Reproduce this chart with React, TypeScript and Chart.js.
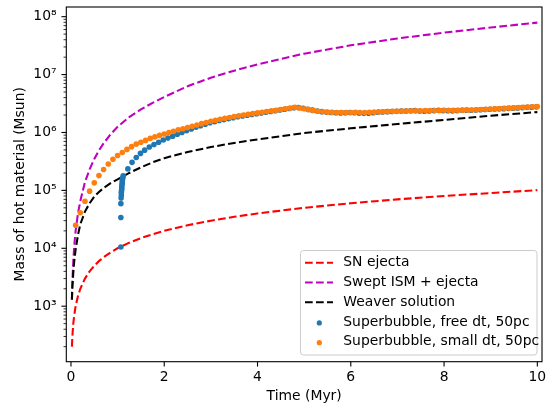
import React, { useEffect, useRef } from "react";
import { Chart, registerables } from "chart.js";

Chart.register(...registerables);

// ---- Data ----
const lineTimes = [0.02, 0.03, 0.05, 0.07, 0.1, 0.15, 0.2, 0.3, 0.4, 0.5, 0.6, 0.7, 0.85, 1, 1.25, 1.5, 1.75, 2, 2.5, 3, 3.5, 4, 5, 6, 7, 8, 9, 10];
const snEjecta = [200, 300, 500, 700, 1000, 1500, 2000, 3000, 4000, 5000, 6000, 7000, 8500, 10000, 12500, 15000, 17500, 20000, 25000, 30000, 35000, 40000, 50000, 60000, 70000, 80000, 90000, 101000];
const sweptIsm = [1300, 2600, 6000, 11000, 20000, 40000, 65000, 140000, 230000, 350000, 490000, 650000, 930000, 1250000, 1850000, 2500000, 3250000, 4100000, 6300000, 8800000, 11700000, 15000000, 23000000, 32000000, 42000000, 53000000, 65000000, 79000000];
const weaver = [1300, 2100, 3800, 6000, 9500, 17000, 26000, 43000, 60000, 78000, 94000, 110000, 133000, 155000, 200000, 250000, 305000, 360000, 460000, 560000, 660000, 760000, 980000, 1180000, 1400000, 1650000, 1950000, 2250000];

const blueTimes = [
  1.07, 1.07, 1.07, 1.075, 1.08, 1.08, 1.085, 1.09, 1.09, 1.095, 1.1, 1.1, 1.105, 1.11, 1.12,
  1.22, 1.31, 1.4, 1.49, 1.58, 1.68, 1.78, 1.88, 1.98, 2.08, 2.18, 2.28, 2.38, 2.48,
  2.58, 2.68, 2.78, 2.88, 2.98, 3.08, 3.18, 3.28, 3.38, 3.48,
  3.58, 3.68, 3.78, 3.88, 3.98, 4.08, 4.18, 4.28, 4.38, 4.48,
  4.58, 4.68, 4.78, 4.88, 4.98, 5.08, 5.18, 5.28, 5.38, 5.48,
  5.58, 5.68, 5.78, 5.88, 5.98, 6.08, 6.18, 6.28, 6.38, 6.48,
  6.58, 6.68, 6.78, 6.88, 6.98, 7.08, 7.18, 7.28, 7.38, 7.48,
  7.58, 7.68, 7.78, 7.88, 7.98, 8.08, 8.18, 8.28, 8.38, 8.48,
  8.58, 8.68, 8.78, 8.88, 8.98, 9.08, 9.18, 9.28, 9.38, 9.48,
  9.58, 9.68, 9.78, 9.88, 9.98,
];
const blueMass = [
  10500, 34000, 59000, 74000, 83000, 92000, 100000, 108000, 117000, 126000, 135000, 145000, 155000, 165000, 178000,
  235000, 305000, 370000, 435000, 495000, 560000, 620000, 680000, 740000, 800000, 860000, 930000, 1000000, 1070000,
  1150000, 1230000, 1310000, 1390000, 1470000, 1540000, 1610000, 1670000, 1730000, 1800000,
  1870000, 1930000, 1990000, 2050000, 2110000, 2170000, 2230000, 2300000, 2370000, 2440000,
  2520000, 2600000, 2680000, 2700000, 2620000, 2520000, 2430000, 2350000, 2290000, 2240000,
  2210000, 2190000, 2180000, 2190000, 2210000, 2190000, 2160000, 2140000, 2150000, 2190000,
  2230000, 2260000, 2290000, 2310000, 2320000, 2340000, 2350000, 2370000, 2390000, 2350000,
  2330000, 2350000, 2390000, 2410000, 2390000, 2370000, 2360000, 2390000, 2410000, 2430000,
  2420000, 2440000, 2470000, 2490000, 2520000, 2540000, 2560000, 2580000, 2610000, 2630000,
  2660000, 2690000, 2720000, 2740000, 2770000,
];

const orangeTimes = [
  0.1, 0.2, 0.3, 0.4, 0.5, 0.6, 0.7, 0.8, 0.9, 1.0,
  1.1, 1.2, 1.3, 1.4, 1.5, 1.6, 1.7, 1.8, 1.9, 2.0,
  2.1, 2.2, 2.3, 2.4, 2.5, 2.6, 2.7, 2.8, 2.9, 3.0,
  3.1, 3.2, 3.3, 3.4, 3.5, 3.6, 3.7, 3.8, 3.9, 4.0,
  4.1, 4.2, 4.3, 4.4, 4.5, 4.6, 4.7, 4.8, 4.9, 5.0,
  5.1, 5.2, 5.3, 5.4, 5.5, 5.6, 5.7, 5.8, 5.9, 6.0,
  6.1, 6.2, 6.3, 6.4, 6.5, 6.6, 6.7, 6.8, 6.9, 7.0,
  7.1, 7.2, 7.3, 7.4, 7.5, 7.6, 7.7, 7.8, 7.9, 8.0,
  8.1, 8.2, 8.3, 8.4, 8.5, 8.6, 8.7, 8.8, 8.9, 9.0,
  9.1, 9.2, 9.3, 9.4, 9.5, 9.6, 9.7, 9.8, 9.9, 10.0,
];
const orangeMass = [
  25000, 41000, 65000, 97000, 135000, 180000, 230000, 285000, 345000, 400000,
  450000, 510000, 570000, 630000, 680000, 730000, 790000, 840000, 890000, 940000,
  1000000, 1050000, 1110000, 1160000, 1220000, 1280000, 1350000, 1420000, 1490000, 1560000,
  1630000, 1690000, 1750000, 1810000, 1880000, 1940000, 2000000, 2060000, 2120000, 2180000,
  2240000, 2300000, 2360000, 2420000, 2500000, 2570000, 2640000, 2720000, 2660000, 2570000,
  2480000, 2400000, 2330000, 2280000, 2250000, 2230000, 2220000, 2220000, 2220000, 2220000,
  2230000, 2220000, 2220000, 2230000, 2250000, 2270000, 2280000, 2300000, 2320000, 2330000,
  2340000, 2350000, 2360000, 2370000, 2380000, 2390000, 2400000, 2400000, 2400000, 2410000,
  2420000, 2420000, 2420000, 2430000, 2440000, 2450000, 2470000, 2500000, 2520000, 2550000,
  2570000, 2590000, 2610000, 2640000, 2660000, 2690000, 2720000, 2750000, 2780000, 2810000,
];

const xTickValues = [0, 2, 4, 6, 8, 10];
const yTickValues = [1e3, 1e4, 1e5, 1e6, 1e7, 1e8];
const yTickLabels = ["10\u00b3", "10\u2074", "10\u2075", "10\u2076", "10\u2077", "10\u2078"];
const legendLabels = [
  "SN ejecta",
  "Swept ISM + ejecta",
  "Weaver solution",
  "Superbubble, free dt, 50pc",
  "Superbubble, small dt, 50pc",
];

const FONT = "'DejaVu Sans', sans-serif";
const FS = 13.9;
const C_RED = "#ff0000";
const C_MAG = "#bf00bf";
const C_BLK = "#000000";
const C_BLUE = "#1f77b4";
const C_ORANGE = "#ff7f0e";
const DASH = [7.7, 3.3];

const pairs = (xs: number[], ys: number[]) => xs.map((x, i) => ({ x, y: ys[i] }));

const decorPlugin = {
  id: "decor",
  afterDraw(chart: any) {
    const { ctx, chartArea: a, scales } = chart;
    const xs = scales.x;
    const ys = scales.y;
    const line = (x1: number, y1: number, x2: number, y2: number) => {
      ctx.beginPath();
      ctx.moveTo(x1, y1);
      ctx.lineTo(x2, y2);
      ctx.stroke();
    };
    ctx.save();
    ctx.strokeStyle = "#000";
    ctx.lineWidth = 1.1;
    ctx.strokeRect(a.left, a.top, a.right - a.left, a.bottom - a.top);
    for (const v of xTickValues) {
      const px = xs.getPixelForValue(v);
      line(px, a.bottom, px, a.bottom + 4.86);
    }
    for (const v of yTickValues) {
      const py = ys.getPixelForValue(v);
      line(a.left - 4.86, py, a.left, py);
    }
    ctx.lineWidth = 0.8;
    for (let d = 2; d <= 8; d++) {
      for (let k = 2; k <= 9; k++) {
        const v = k * Math.pow(10, d);
        if (v < ys.min || v > ys.max) continue;
        const py = ys.getPixelForValue(v);
        line(a.left - 2.78, py, a.left, py);
      }
    }

    // legend
    const bx = 300.5, by = 250.5, bw = 236.5, bh = 104.5, r = 3;
    ctx.beginPath();
    ctx.moveTo(bx + r, by);
    ctx.lineTo(bx + bw - r, by);
    ctx.arcTo(bx + bw, by, bx + bw, by + r, r);
    ctx.lineTo(bx + bw, by + bh - r);
    ctx.arcTo(bx + bw, by + bh, bx + bw - r, by + bh, r);
    ctx.lineTo(bx + r, by + bh);
    ctx.arcTo(bx, by + bh, bx, by + bh - r, r);
    ctx.lineTo(bx, by + r);
    ctx.arcTo(bx, by, bx + r, by, r);
    ctx.closePath();
    ctx.fillStyle = "rgba(255,255,255,0.8)";
    ctx.fill();
    ctx.strokeStyle = "#cccccc";
    ctx.lineWidth = 1;
    ctx.stroke();

    const rowY = [262.7, 282.5, 302.2, 321.9, 341.7];
    const lineColors = [C_RED, C_MAG, C_BLK];
    ctx.font = `${FS}px ${FONT}`;
    ctx.textBaseline = "middle";
    ctx.textAlign = "left";
    for (let i = 0; i < legendLabels.length; i++) {
      const y = rowY[i];
      if (i < 3) {
        ctx.strokeStyle = lineColors[i];
        ctx.lineWidth = 2.08;
        ctx.setLineDash(DASH);
        line(305, y, 333, y);
        ctx.setLineDash([]);
      } else {
        ctx.fillStyle = i === 3 ? C_BLUE : C_ORANGE;
        ctx.beginPath();
        ctx.arc(319.3, y + 1, 2.6, 0, Math.PI * 2);
        ctx.fill();
      }
      ctx.fillStyle = "#000";
      ctx.fillText(legendLabels[i], 343.3, y);
    }
    ctx.restore();
  },
};

export default function App() {
  const ref = useRef<HTMLCanvasElement>(null);
  useEffect(() => {
    document.body.style.margin = "0";
    const canvas = ref.current!;
    Chart.defaults.font.family = FONT;
    Chart.defaults.color = "#000";
    const chart = new Chart(canvas, {
      type: "scatter",
      data: {
        datasets: [
          {
            label: legendLabels[4],
            data: pairs(orangeTimes, orangeMass),
            backgroundColor: C_ORANGE,
            pointRadius: 2.8,
            pointBorderWidth: 0,
            order: 0,
          },
          {
            label: legendLabels[3],
            data: pairs(blueTimes, blueMass),
            backgroundColor: C_BLUE,
            pointRadius: 2.8,
            pointBorderWidth: 0,
            order: 1,
          },
          {
            label: legendLabels[2],
            data: pairs(lineTimes, weaver),
            showLine: true,
            borderColor: C_BLK,
            borderWidth: 2.08,
            borderDash: DASH,
            pointRadius: 0,
            order: 2,
          },
          {
            label: legendLabels[1],
            data: pairs(lineTimes, sweptIsm),
            showLine: true,
            borderColor: C_MAG,
            borderWidth: 2.08,
            borderDash: DASH,
            pointRadius: 0,
            order: 3,
          },
          {
            label: legendLabels[0],
            data: pairs(lineTimes, snEjecta),
            showLine: true,
            borderColor: C_RED,
            borderWidth: 2.08,
            borderDash: DASH,
            pointRadius: 0,
            order: 4,
          },
        ] as any,
      },
      options: {
        responsive: false,
        animation: false,
        devicePixelRatio: 1,
        layout: { padding: { top: 7, right: 2.7, left: 0, bottom: 0 } },
        plugins: { legend: { display: false }, tooltip: { enabled: false } },
        scales: {
          x: {
            type: "linear",
            min: -0.1,
            max: 10.1,
            grid: { display: false, drawTicks: false },
            border: { display: false },
            ticks: {
              padding: 7,
              font: { size: FS },
              color: "#000",
              maxRotation: 0,
              autoSkip: false,
              callback: (v: any) => String(v),
            },
            afterBuildTicks: (s: any) => {
              s.ticks = xTickValues.map((v) => ({ value: v }));
            },
            afterFit: (s: any) => {
              s.height = 45.3;
              s.paddingLeft = 0;
              s.paddingRight = 0;
            },
            title: {
              display: true,
              text: "Time (Myr)",
              font: { size: FS },
              color: "#000",
              padding: { top: 0, bottom: 2.7 },
            },
          },
          y: {
            type: "logarithmic",
            min: 110,
            max: 1.47e8,
            grid: { display: false, drawTicks: false },
            border: { display: false },
            ticks: {
              padding: 9.7,
              font: { size: FS },
              color: "#000",
              autoSkip: false,
              callback: (v: any) => {
                const i = yTickValues.indexOf(Number(v));
                return i >= 0 ? yTickLabels[i] : "";
              },
            },
            afterBuildTicks: (s: any) => {
              s.ticks = yTickValues.map((v) => ({ value: v }));
            },
            afterFit: (s: any) => {
              s.width = 66.3;
              s.paddingTop = 0;
              s.paddingBottom = 0;
            },
            title: {
              display: true,
              text: "Mass of hot material (Msun)",
              font: { size: FS },
              color: "#000",
              padding: { top: 11.7, bottom: 0 },
            },
          },
        },
      } as any,
      plugins: [decorPlugin],
    });
    return () => chart.destroy();
  }, []);
  return (
    <canvas
      ref={ref}
      width={546}
      height={407}
      style={{ display: "block", width: 546, height: 407 }}
    />
  );
}
